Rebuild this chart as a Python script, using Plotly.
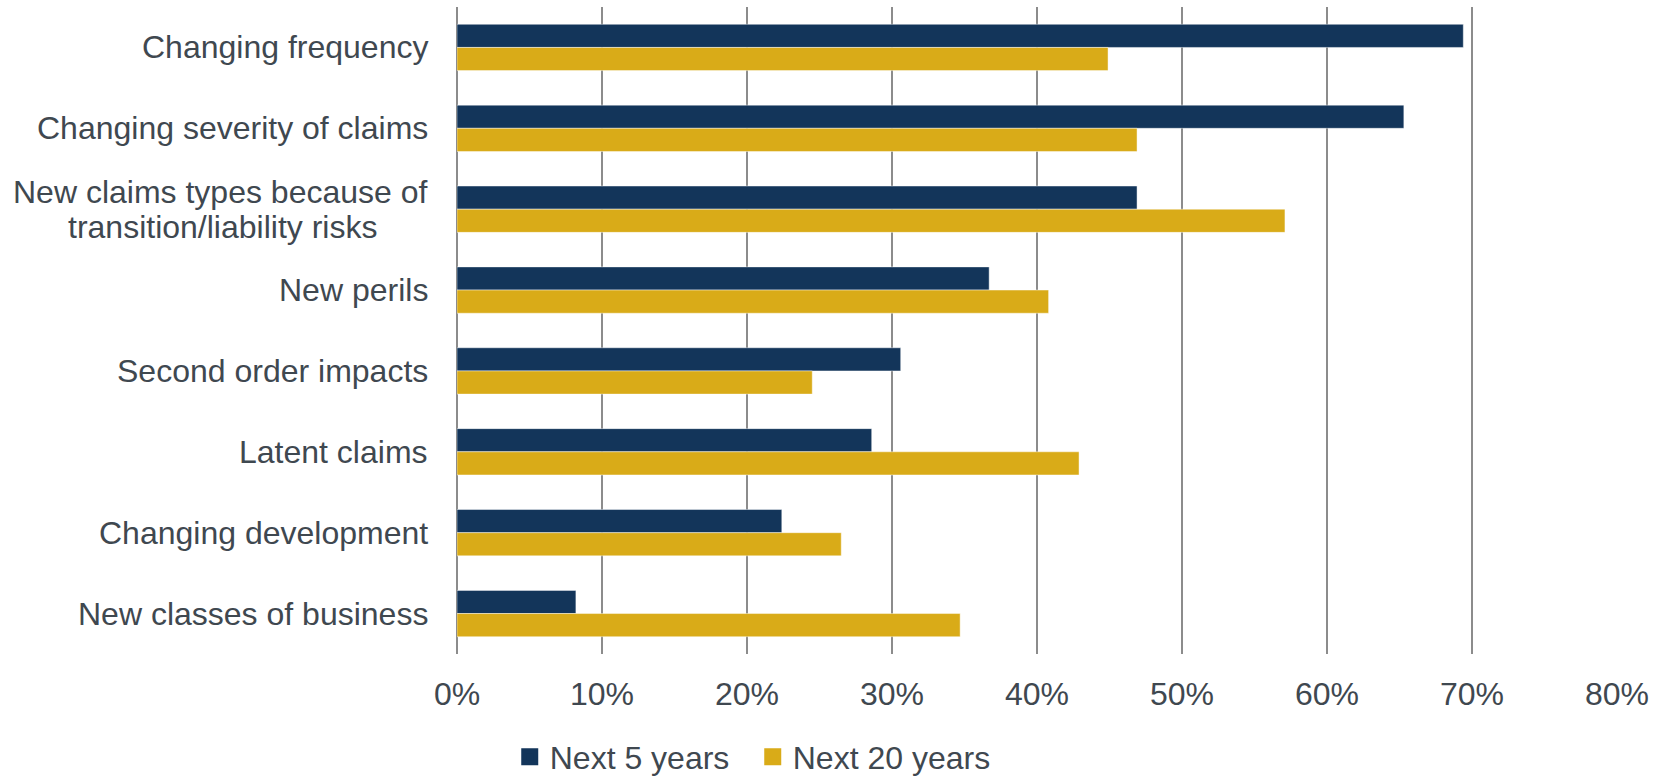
import plotly.graph_objects as go

# Survey categories, top to bottom
categories = [
    "Changing frequency",
    "Changing severity of claims",
    "New claims types because of transition/liability risks",
    "New perils",
    "Second order impacts",
    "Latent claims",
    "Changing development",
    "New classes of business",
]

# Share of respondents (%)
next_5_years = [69.4, 65.3, 46.9, 36.7, 30.6, 28.6, 22.4, 8.2]
next_20_years = [44.9, 46.9, 57.1, 40.8, 24.5, 42.9, 26.5, 34.7]

series_names = ["Next 5 years", "Next 20 years"]

x_ticks = [0, 10, 20, 30, 40, 50, 60, 70, 80]
x_tick_labels = [f"{v}%" for v in x_ticks]

NAVY = "#13355A"
GOLD = "#D9AB18"
TEXT = "#3F4850"
GRID = "#8C8C8C"
FONT = "Liberation Sans, Arial, sans-serif"
EDGE = "rgba(255,255,255,0.45)"

fig = go.Figure()
for name, values, color in zip(series_names, [next_5_years, next_20_years], [NAVY, GOLD]):
    fig.add_trace(go.Bar(
        name=name, y=categories, x=values, orientation="h", showlegend=False,
        marker=dict(color=color, line=dict(color=EDGE, width=1)),
    ))

# Legend entries live on a hidden pair of axes so they don't take group slots
for name, color in zip(series_names, [NAVY, GOLD]):
    fig.add_trace(go.Bar(
        name=name, x=[None], y=[None], xaxis="x2", yaxis="y2", showlegend=True,
        marker=dict(color=color, line=dict(color=color, width=5)),
    ))

# Category labels drawn as annotations so the two-line label can be centred
label_font = dict(family=FONT, size=32, color=TEXT)
annotations = []
for cat in categories:
    if cat.startswith("New claims types"):
        first, second = "New claims types because of", "transition/liability risks"
        annotations.append(dict(
            text=first, xref="paper", x=0, y=cat, yref="y",
            xanchor="right", yanchor="middle", xshift=-27, yshift=17,
            showarrow=False, font=label_font,
        ))
        annotations.append(dict(
            text=second, xref="paper", x=0, y=cat, yref="y",
            xanchor="center", yanchor="middle", xshift=-235, yshift=-18,
            showarrow=False, font=label_font,
        ))
    else:
        annotations.append(dict(
            text=cat, xref="paper", x=0, y=cat, yref="y",
            xanchor="right", yanchor="middle", xshift=-27,
            showarrow=False, font=label_font,
        ))

fig.update_layout(
    width=1655, height=776,
    margin=dict(l=457, r=38, t=7, b=122),
    paper_bgcolor="white", plot_bgcolor="white",
    barmode="group", bargap=0.427, bargroupgap=0,
    font=dict(family=FONT, size=32, color=TEXT),
    annotations=annotations,
    legend=dict(
        orientation="h", xref="container", yref="container",
        x=0.308, xanchor="left", y=0.06, yanchor="top",
        font=dict(family=FONT, size=32, color=TEXT),
        entrywidth=198, entrywidthmode="pixels",
        bgcolor="rgba(0,0,0,0)",
    ),
    xaxis=dict(
        range=[0, 80], tickmode="array", tickvals=x_ticks, ticktext=x_tick_labels,
        showgrid=True, gridcolor=GRID, gridwidth=1.5,
        zeroline=True, zerolinecolor=GRID, zerolinewidth=1.5,
        showline=False, ticks="", ticklabelstandoff=18,
        tickfont=dict(family=FONT, size=32, color=TEXT),
    ),
    yaxis=dict(
        categoryorder="array", categoryarray=categories, autorange="reversed",
        showticklabels=False, showgrid=False, zeroline=False, showline=False, ticks="",
    ),
    xaxis2=dict(visible=False, overlaying="x", range=[0, 1]),
    yaxis2=dict(visible=False, overlaying="y", range=[0, 1]),
)

fig.write_html("out.html")
